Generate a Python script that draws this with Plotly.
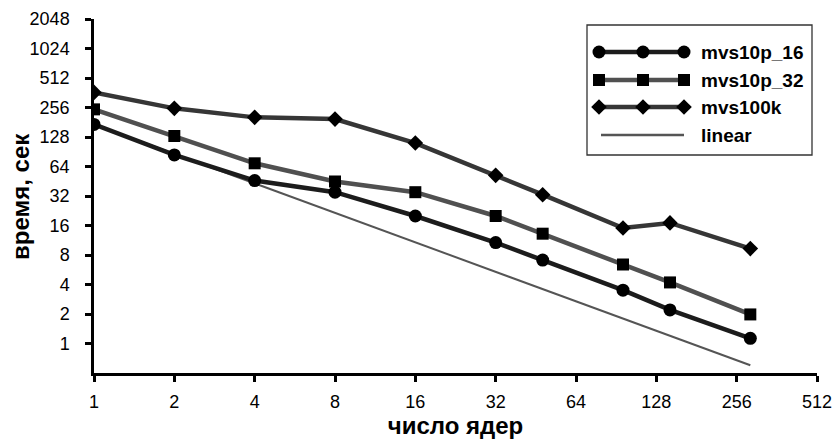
import plotly.graph_objects as go
import math

cores = [1, 2, 4, 8, 16, 32, 48, 96, 144, 288]
mvs10p_16 = [172, 84, 46, 35, 20, 10.7, 7.1, 3.5, 2.2, 1.13]
mvs10p_32 = [245, 131, 69, 45, 35, 20, 13.2, 6.4, 4.2, 1.98]
mvs100k = [365, 251, 203, 195, 111, 52, 33, 15.1, 17, 9.3]
linear = [172, 86, 43, 21.5, 10.75, 5.4, 3.6, 1.8, 1.2, 0.6]

x_ticks = [1, 2, 4, 8, 16, 32, 64, 128, 256, 512]
y_ticks = [1, 2, 4, 8, 16, 32, 64, 128, 256, 512, 1024, 2048]

names = ["mvs10p_16", "mvs10p_32", "mvs100k", "linear"]
line_colors = ["#1c1c1c", "#505050", "#363636", "#555555"]
line_widths = [4.5, 4.5, 4.5, 2]
symbols = ["circle", "square", "diamond", None]
msizes = [13, 12, 12, 0]
series = [mvs10p_16, mvs10p_32, mvs100k, linear]

FONT = "Liberation Sans, Arial, sans-serif"
fig = go.Figure()

order = [3, 2, 1, 0]
for i in order:
    mode = "lines" if symbols[i] is None else "lines+markers"
    fig.add_trace(go.Scatter(
        x=cores, y=series[i], name=names[i], mode=mode,
        line=dict(color=line_colors[i], width=line_widths[i]),
        marker=dict(symbol=symbols[i] or "circle", size=msizes[i], color="black"),
        showlegend=False,
    ))

# plot area spans page x 94..817, y 19..373 (body margin removed via post_script)
W, H = 723.0, 354.0
def px(xp): return (xp - 94) / W
def py(yp): return (373 - yp) / H
rows = [52, 80, 107, 135]
for k in range(4):
    yy = py(rows[k])
    xs = [px(599), px(643), px(684)]
    if symbols[k] is None:
        fig.add_trace(go.Scatter(x=[px(601), px(684)], y=[yy, yy], mode="lines",
                                 line=dict(color=line_colors[k], width=line_widths[k] + 0.5),
                                 xaxis="x2", yaxis="y2", showlegend=False, hoverinfo="skip"))
    else:
        fig.add_trace(go.Scatter(x=xs, y=[yy]*3, mode="lines+markers",
                                 line=dict(color=line_colors[k], width=line_widths[k]),
                                 marker=dict(symbol=symbols[k], size=msizes[k], color="black"),
                                 xaxis="x2", yaxis="y2", showlegend=False, hoverinfo="skip"))
    fig.add_annotation(x=px(699), y=yy, xref="x2", yref="y2", text="<b>%s</b>" % names[k],
                       showarrow=False, xanchor="left", yanchor="middle",
                       font=dict(family=FONT, size=19, color="black"))

fig.add_shape(type="rect", xref="x2", yref="y2", x0=px(587), x1=px(812), y0=py(155), y1=py(25),
              line=dict(color="#333333", width=1.3), fillcolor="rgba(0,0,0,0)")

# y-axis title as a rotated annotation
fig.add_annotation(x=0, y=py(197), xref="paper", yref="y2", xshift=-74,
                   text="<b>время, сек</b>", textangle=-90, showarrow=False,
                   xanchor="center", yanchor="middle",
                   font=dict(family=FONT, size=24, color="black"))

FW, FH = 835, 439
fig.update_layout(
    width=FW, height=FH,
    margin=dict(l=94, r=FW - 817, t=19, b=FH - 373),
    paper_bgcolor="white", plot_bgcolor="white",
    font=dict(family=FONT, size=18, color="black"),
    xaxis=dict(type="log", range=[0, math.log10(512)], automargin=False,
               tickvals=x_ticks, ticktext=[str(v) for v in x_ticks],
               showgrid=False, zeroline=False, showline=True, linecolor="black", linewidth=2.5,
               ticks="outside", ticklen=6, tickwidth=2.5, tickcolor="black",
               ticklabelstandoff=5,
               title=dict(text="<b>число ядер</b>", font=dict(size=24), standoff=2)),
    yaxis=dict(type="log", range=[math.log10(0.5), math.log10(2048)], automargin=False,
               tickvals=y_ticks, ticktext=[str(v) for v in y_ticks],
               showgrid=False, zeroline=False, showline=True, linecolor="black", linewidth=2.5,
               ticks="outside", ticklen=6, tickwidth=2.5, tickcolor="black",
               ticklabelstandoff=12),
    xaxis2=dict(range=[0, 1], overlaying="x", visible=False, fixedrange=True),
    yaxis2=dict(range=[0, 1], overlaying="y", visible=False, fixedrange=True),
)

fig.write_html("out.html", config={"displayModeBar": False},
               post_script="document.body.style.margin='0';document.body.style.overflow='hidden';")
